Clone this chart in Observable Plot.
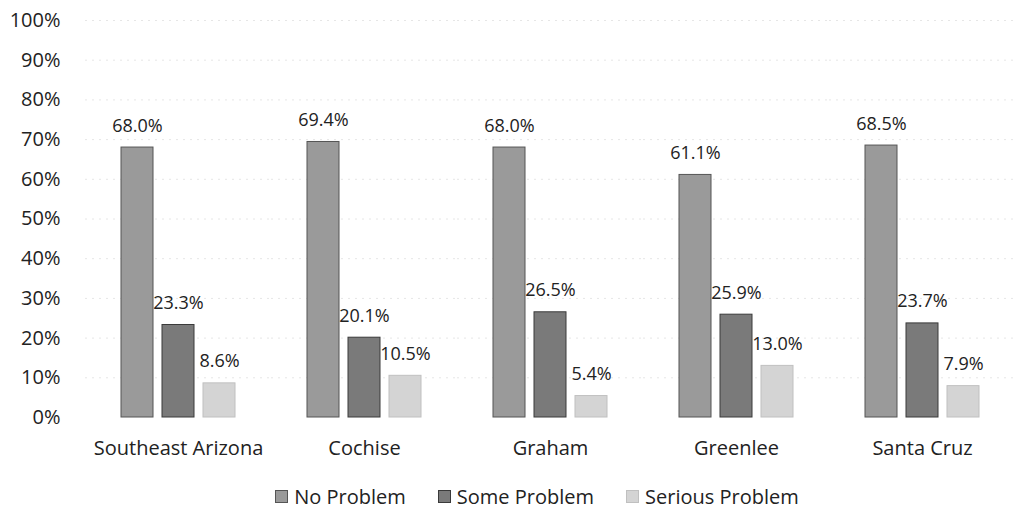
<!DOCTYPE html>
<html><head><meta charset="utf-8">
<script src="https://cdn.jsdelivr.net/npm/d3@7"></script>
<script src="https://cdn.jsdelivr.net/npm/@observablehq/plot@0.6"></script>
<style>
body{margin:0;background:#fff;font-family:"Open Sans",sans-serif;}
#legend{display:flex;justify-content:center;align-items:center;gap:32px;font-size:20px;color:#222;height:40px;padding-left:59px;margin-top:6px;}
.item{display:flex;align-items:center;}
.sw{display:inline-block;width:11px;height:11px;margin-right:6px;border:1px solid #666;}
</style></head><body><div id="chart"></div><div id="legend"></div>
<script>
const regions = ["Southeast Arizona","Cochise","Graham","Greenlee","Santa Cruz"];
const series = ["No Problem","Some Problem","Serious Problem"];
const noProblem = [68.0,69.4,68.0,61.1,68.5];
const someProblem = [23.3,20.1,26.5,25.9,23.7];
const seriousProblem = [8.6,10.5,5.4,13.0,7.9];
const yTicks = [0,10,20,30,40,50,60,70,80,90,100];
const colors = ["#9a9a9a","#7a7a7a","#d4d4d4"];
const strokes = ["#555555","#3a3a3a","#c0c0c0"];

const values = [noProblem, someProblem, seriousProblem];
const data = regions.flatMap((r,i)=>series.map((s,j)=>({region:r, series:s, value:values[j][i]})));

const chart = Plot.plot({
  width:1015, height:470, marginTop:20, marginBottom:53, marginLeft:85, marginRight:0,
  style:{fontFamily:"'Open Sans', sans-serif", fontSize:"20px", color:"#222", background:"#fff"},
  fx:{domain:regions, padding:0, label:null, axis:"bottom", tickSize:0, tickPadding:23},
  x:{domain:series, paddingInner:0.21, paddingOuter:0.82, axis:null},
  y:{domain:[0,100], ticks:yTicks, tickFormat:d=>d+"%", label:null, tickSize:0, tickPadding:25},
  marks:[
    Plot.ruleY(yTicks.slice(1), {stroke:"#e6e6e6", strokeDasharray:"2,5"}),
    ...series.map((s,j)=>Plot.barY(data.filter(d=>d.series===s), {fx:"region", x:"series", y:"value", fill:colors[j], stroke:strokes[j], strokeWidth:1})),
    Plot.text(data, {fx:"region", x:"series", y:"value", text:d=>d.value.toFixed(1)+"%", lineAnchor:"bottom", dy:-16, fontSize:18, fill:"#222"})
  ]
});
document.getElementById("chart").appendChild(chart);

const legend = document.getElementById("legend");
series.forEach((s,j)=>{
  const it = document.createElement("span"); it.className="item";
  const sw = document.createElement("span"); sw.className="sw";
  sw.style.background = colors[j]; sw.style.borderColor = strokes[j];
  it.appendChild(sw);
  it.appendChild(document.createTextNode(s));
  legend.appendChild(it);
});
</script></body></html>
